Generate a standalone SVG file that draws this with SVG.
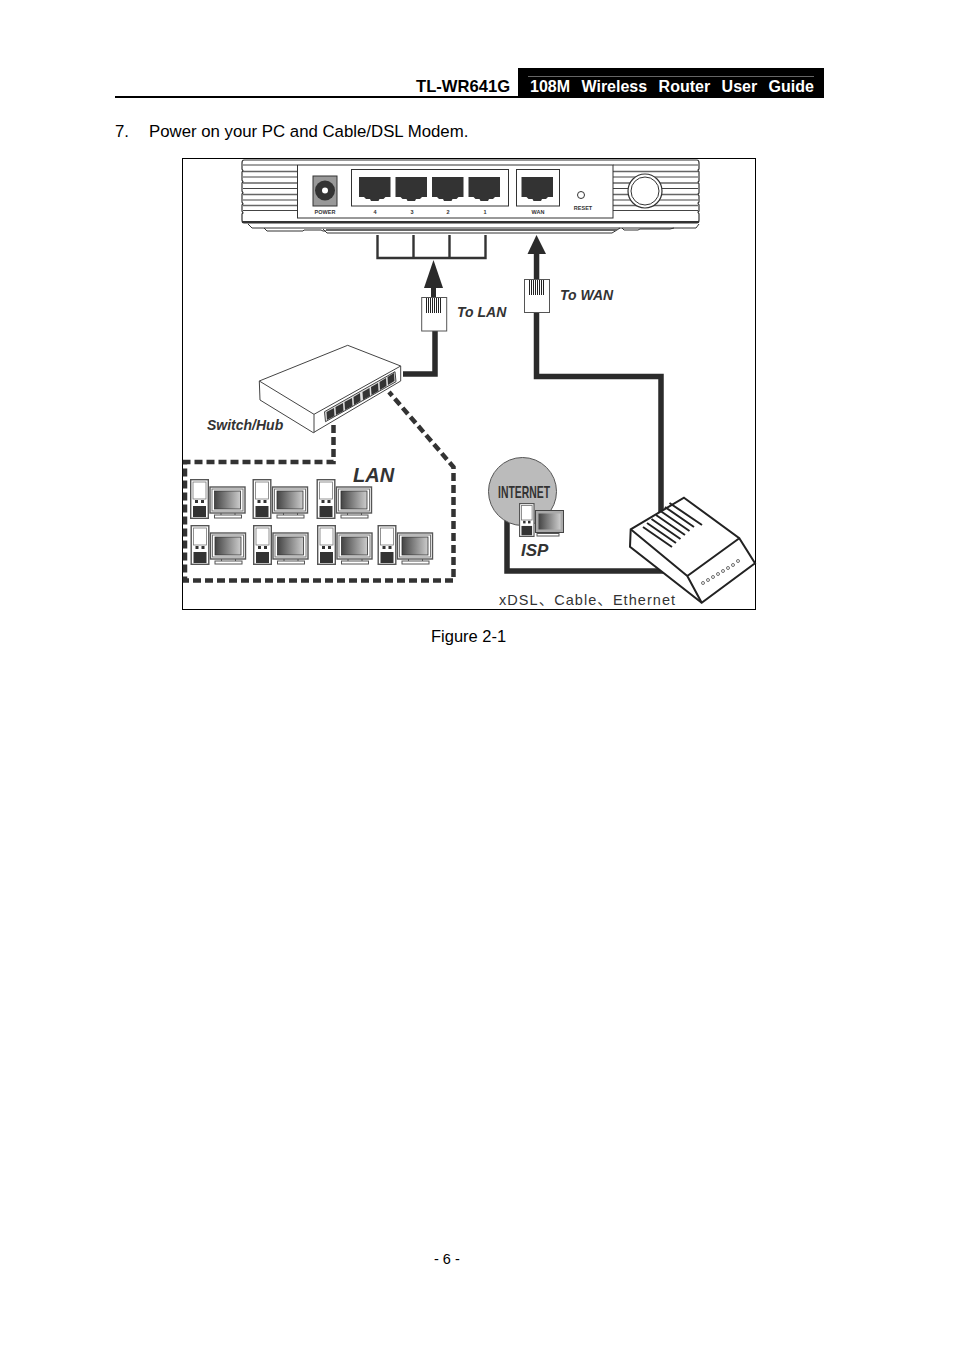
<svg xmlns="http://www.w3.org/2000/svg" xmlns:xlink="http://www.w3.org/1999/xlink" width="954" height="1350" viewBox="0 0 954 1350">
<style>
text{font-family:"Liberation Sans",Arial,sans-serif;fill:#000}
.o{fill:#fff;stroke:#333;stroke-width:1.200}
.port{fill:#333}
.cable{fill:none;stroke:#2b2b2b;stroke-width:5.500;stroke-linejoin:miter}
.thinc{fill:none;stroke:#333;stroke-width:2.400}
.dash{fill:none;stroke:#333;stroke-width:4.500;stroke-dasharray:8 4}
.lbl{font-weight:bold;font-style:italic;font-size:14px;fill:#333}
.tiny{font-size:5.500px;text-anchor:middle;fill:#333;font-weight:bold}
</style>
<defs>
<linearGradient id="scr"><stop offset="0" stop-color="#444"/><stop offset="1" stop-color="#ccc"/></linearGradient>
<path id="rj" class="port" d="M0 0h31.500v20h-5l-2 2h-4l-1 2h-7.500l-1-2h-4l-2-2h-5z"/>
<g id="pc">
<rect x="0.700" y="0.700" width="17.600" height="38.600" fill="#fff" stroke="#555" stroke-width="1.400"/>
<rect x="3" y="3" width="13" height="17" fill="#fff" stroke="#777" stroke-width="0.800"/>
<rect x="3" y="27" width="13" height="11" fill="#333"/>
<rect x="5" y="21" width="3" height="3" fill="#333"/><rect x="11" y="21" width="3" height="3" fill="#333"/>
<rect x="20" y="8" width="35" height="26" fill="#fff" stroke="#555" stroke-width="1.400"/>
<rect x="22" y="10" width="31" height="22" fill="#fff" stroke="#777"/>
<rect x="24.500" y="12" width="26" height="18" fill="url(#scr)" stroke="#333" stroke-width="0.800"/>
<rect x="24.500" y="36" width="27" height="3" fill="#fff" stroke="#555"/>
<path d="M31 34v2M45 34v2" stroke="#555"/>
</g>
</defs>
<rect width="954" height="1350" fill="#fff"/>

<g id="header">
<rect x="518" y="68" width="306" height="30" fill="#000"/>
<rect x="115" y="96" width="709" height="2" fill="#000"/>
<path d="M528 76.500H814" stroke="#666"/>
<text x="416" y="92" font-size="16.600" font-weight="bold">TL-WR641G</text>
<text x="530" y="92" font-size="16" font-weight="bold" word-spacing="7" style="fill:#fff">108M Wireless Router User Guide</text>
</g>
<text id="step" y="136.500" font-size="16.800"><tspan x="115">7.</tspan><tspan x="149">Power on your PC and Cable/DSL Modem.</tspan></text>
<rect id="frame" x="182.500" y="158.500" width="573" height="451" fill="none" stroke="#000"/>

<g id="router">
<path class="o" d="M244 160H697q2 0 2 3v6l-1 1 1 2v9l-1 1 1 2v9l-1 1 1 2v6l-1 1 1 2v6l-1 1 1 2v6q0 3-2 3H244q-2 0-2-3v-6l1-1-1-2v-6l1-1-1-2v-8l1-1-1-2v-8l1-1-1-2v-8l1-1-1-2v-6q0-3 2-3z"/>
<path d="M243 165H297M243 177H297M243 188.500H297M243 200H297M243 210.500H297M613 165H698M613 177H698M613 188.500H698M613 200H698M613 210.500H698" stroke="#444" stroke-width="1"/>
<path d="M243 171.500H297M243 183H297M243 194.500H297M243 205.500H297M613 171.500H698M613 183H698M613 194.500H698M613 205.500H698" stroke="#666" stroke-width="1.600"/>
<path d="M242 222H699" stroke="#333" stroke-width="1.800"/>
<path d="M248 224l4 4H696l3-4" fill="none" stroke="#333"/>
<path d="M264 228l3 3h36l1-1H321l2 1h3M323 229l4 4H612l5-3 3-2M622 228l2 2h14l2-1h30l4-1" fill="none" stroke="#333"/>
<path d="M326 230H617" stroke="#666" stroke-width="2"/>
<rect x="297.500" y="165" width="315.500" height="53" fill="#fff" stroke="#333"/>
<rect x="313" y="176" width="24" height="30" fill="#999" stroke="#333"/>
<circle cx="325" cy="190.500" r="10" fill="#333"/>
<circle cx="325" cy="190.500" r="3" fill="#fff"/>
<rect x="351.500" y="169.500" width="157" height="36.500" fill="#fff" stroke="#333"/>
<use xlink:href="#rj" x="359" y="177"/><use xlink:href="#rj" x="395.500" y="177"/><use xlink:href="#rj" x="432" y="177"/><use xlink:href="#rj" x="468.500" y="177"/>
<rect x="516.500" y="169.500" width="43" height="36.500" fill="#fff" stroke="#333"/>
<use xlink:href="#rj" x="521.500" y="177"/>
<circle cx="581" cy="195" r="3.500" fill="#fff" stroke="#333"/>
<circle cx="645" cy="191" r="17" fill="#fff" stroke="#333" stroke-width="1.200"/>
<circle cx="645" cy="191" r="14" fill="#fff" stroke="#333"/>
<text class="tiny" x="325" y="214">POWER</text>
<text class="tiny" x="375" y="214">4</text><text class="tiny" x="412" y="214">3</text><text class="tiny" x="448" y="214">2</text><text class="tiny" x="485" y="214">1</text>
<text class="tiny" x="538" y="214">WAN</text>
<text class="tiny" x="583" y="209.500">RESET</text>
</g>

<g id="connectors">
<path class="thinc" d="M377.500 235V258H485.500V235M413.500 235V258M449.500 235V258"/>
<path class="cable" d="M435 331V374H403"/>
<path class="cable" d="M536.500 312V376.500H661V513"/>
<path class="cable" d="M507 520V571H668"/>
<path class="dash" d="M333.500 425V462H185V580.500H453.500V467L389 392"/>
<path d="M433.500 260L443 288H424Z" fill="#2b2b2b"/>
<rect x="431" y="287" width="5" height="11" fill="#2b2b2b"/>
<path d="M536.500 235L546 254H527.500Z" fill="#2b2b2b"/>
<rect x="533.800" y="253" width="5.500" height="27" fill="#2b2b2b"/>
</g>

<g id="plug-lan">
<rect x="421.700" y="297.500" width="25" height="33.500" fill="#fff" stroke="#555"/>
<path d="M426.500 298v15M428.500 298v15M430.500 298v15M432.500 298v15M434.500 298v15M436.500 298v15M438.500 298v15M440.500 298v15" stroke="#222" stroke-width="1"/>
</g>
<g id="plug-wan">
<rect x="524.500" y="279.500" width="25" height="33" fill="#fff" stroke="#555"/>
<path d="M529.500 280v15M531.500 280v15M533.500 280v15M535.500 280v15M537.500 280v15M539.500 280v15M541.500 280v15M543.500 280v15" stroke="#222" stroke-width="1"/>
</g>

<g id="switch">
<path d="M259.300 381L347.700 345.300 400.700 366V381L313.300 432.700 260 400Z" fill="#fff" stroke="#444"/>
<path d="M259.300 381L314 414.300 400.700 366M314 414.300V432.700" fill="none" stroke="#444"/>
<path d="M324.500 411.700L395 371.700 396 381.700 325.500 421.700Z" fill="#ddd" stroke="#444"/>
<path d="M326.500 412L334 408 334.500 416 327 420ZM335.500 407L343 403 343.500 411 336 415ZM344.500 402L352 398 352.500 406 345 410ZM353.500 397L360 393 360.500 401 354 405ZM362.500 392L369.500 388 370 396 363 400ZM371 387L378 383 378.500 391 371.500 395ZM379.500 382L386 378 386.500 386 380 390ZM387.500 377L394 373 394.500 381 388 385Z" fill="#333"/>
</g>
<text class="lbl" x="207" y="429.500">Switch/Hub</text>
<text class="lbl" x="457" y="316.500">To LAN</text>
<text class="lbl" x="560" y="299.500">To WAN</text>

<g id="lan">
<text x="353" y="482" font-size="20" font-style="italic" font-weight="bold" style="fill:#333">LAN</text>
<use xlink:href="#pc" x="190" y="479"/><use xlink:href="#pc" x="252.500" y="479"/><use xlink:href="#pc" x="316.500" y="479"/>
<use xlink:href="#pc" x="190.500" y="525"/><use xlink:href="#pc" x="253" y="525"/><use xlink:href="#pc" x="317" y="525"/><use xlink:href="#pc" x="377.500" y="525"/>
</g>

<g id="isp">
<circle cx="522.500" cy="491.500" r="34" fill="#bbb" stroke="#555"/>
<text x="498" y="498" font-size="17" font-weight="bold" textLength="52" lengthAdjust="spacingAndGlyphs" style="fill:#333">INTERNET</text>
<g transform="translate(519,503) scale(0.82,0.85)"><rect x="0.700" y="0.700" width="17.600" height="38.600" fill="#fff" stroke="#555" stroke-width="1.400"/><rect x="3" y="3" width="13" height="17" fill="#fff" stroke="#777"/><rect x="3" y="27" width="13" height="11" fill="#333"/><rect x="5" y="21" width="3" height="3" fill="#333"/><rect x="11" y="21" width="3" height="3" fill="#333"/></g>
<rect x="535.500" y="510.500" width="28" height="22" fill="#aaa" stroke="#444"/>
<rect x="538.500" y="513.500" width="22" height="16" fill="url(#scr)"/>
<rect x="537" y="533.500" width="22" height="2.500" fill="#fff" stroke="#555"/>
<text x="521" y="556" font-size="17" font-style="italic" font-weight="bold" style="fill:#333">ISP</text>
</g>

<g id="modem">
<path d="M684 497.700L739.300 538.300 755 563.300 701.700 602.700 630 546.700 630.700 529.300Z" fill="#fff" stroke="#222" stroke-width="2"/>
<path d="M630.700 529.300L687.300 576 739.300 538.300M687.300 576L701.700 602.700" fill="none" stroke="#222" stroke-width="2"/>
<path d="M643 527L672 547M647 523L676 543M651.500 519L680.500 539M656 515L685 535M660.500 511L689.500 531M665 507L694 527M669.500 503L702 525" stroke="#222" stroke-width="2"/>
<g fill="#fff" stroke="#333" stroke-width="0.700"><circle cx="703" cy="583" r="1.500"/><circle cx="708" cy="580" r="1.500"/><circle cx="713" cy="577" r="1.500"/><circle cx="718" cy="574" r="1.500"/><circle cx="723" cy="571" r="1.500"/><circle cx="728" cy="568" r="1.500"/><circle cx="733" cy="565" r="1.500"/><circle cx="738" cy="561" r="1.500"/></g>
</g>
<text id="media" x="499" y="604.500" font-size="14.500" letter-spacing="1.050" style="fill:#333;font-family:'Liberation Sans','Noto Sans CJK SC',sans-serif">xDSL、Cable、Ethernet</text>
<text id="caption" x="431" y="642" font-size="16.500">Figure 2-1</text>
<text id="page" x="434" y="1264" font-size="14.500">- 6 -</text>
</svg>
